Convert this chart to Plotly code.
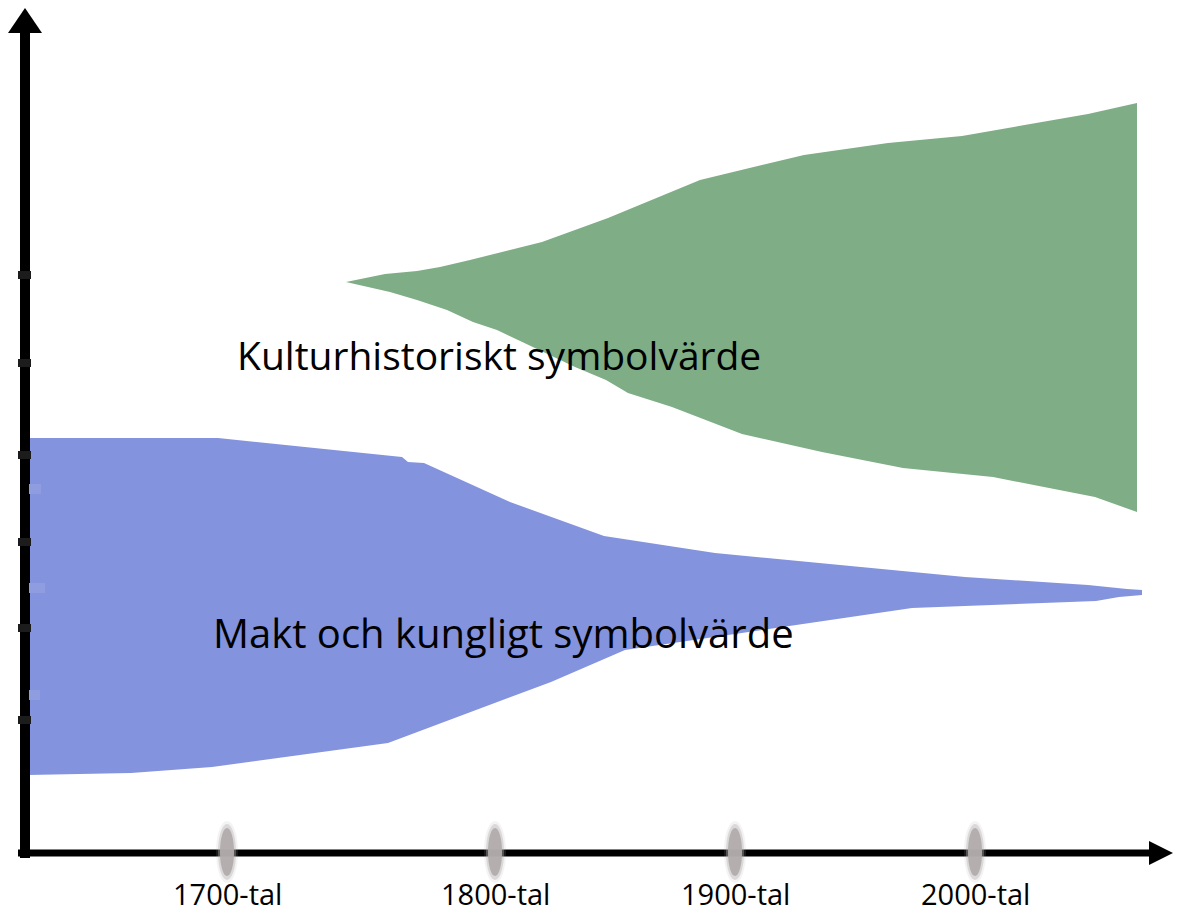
import plotly.graph_objects as go

# ---- data (x: position along time axis, y: value above the time axis) ----
centuries = ["1700-tal", "1800-tal", "1900-tal", "2000-tal"]
century_pos = [202, 470, 710, 950]

green_top_x = [321, 360, 392, 415, 445, 478, 517, 583, 675, 779, 863, 937, 1063, 1112]
green_top_y = [571, 579, 582, 586, 593, 601, 611, 635, 673, 698, 710, 717, 739, 750]
green_bot_x = [321, 365, 392, 422, 448, 472, 550, 581, 603, 647, 717, 797, 878, 968, 1070, 1112]
green_bot_y = [571, 561, 553, 543, 531, 523, 486, 473, 460, 446, 419, 401, 385, 376, 356, 341]

blue_top_x = [3, 193, 377, 383, 399, 485, 579, 690, 940, 1000, 1063, 1102, 1117]
blue_top_y = [415, 415, 396, 391, 390, 351, 317, 300, 276, 272, 268, 264, 263]
blue_bot_x = [3, 106, 187, 363, 526, 600, 887, 1071, 1094, 1117]
blue_bot_y = [78, 80, 86, 110, 171, 203, 245, 252, 256, 258]

green_label = "Kulturhistoriskt symbolvärde"
blue_label = "Makt och kungligt symbolvärde"

GREEN = "#7fad86"
BLUE = "#8493de"

fig = go.Figure()

fig.add_trace(go.Scatter(
    x=blue_top_x + blue_bot_x[::-1],
    y=blue_top_y + blue_bot_y[::-1],
    fill="toself", fillcolor=BLUE, mode="lines",
    line=dict(width=0, color=BLUE), hoverinfo="skip", showlegend=False))

fig.add_trace(go.Scatter(
    x=green_top_x + green_bot_x[::-1],
    y=green_top_y + green_bot_y[::-1],
    fill="toself", fillcolor=GREEN, mode="lines",
    line=dict(width=0, color=GREEN), hoverinfo="skip", showlegend=False))

shapes = []
# y axis line and arrowhead
shapes.append(dict(type="line", xref="x", yref="y", x0=0, x1=0, y0=-5, y1=822,
                   line=dict(color="black", width=10)))
shapes.append(dict(type="path", xref="x", yref="y",
                   path="M -17 820 L 0 845 L 17 820 Z",
                   fillcolor="black", line=dict(width=0)))
# little tick squares on the y axis
for yy in [578, 490, 398, 311, 225, 133]:
    shapes.append(dict(type="rect", xref="x", yref="y", x0=-7, x1=6, y0=yy - 4, y1=yy + 4,
                       fillcolor="#1c1c1c", line=dict(width=0)))
for yy, w in [(364, 12), (265, 16), (158, 11)]:
    shapes.append(dict(type="rect", xref="x", yref="y", x0=4, x1=4 + w, y0=yy - 5, y1=yy + 5,
                       fillcolor="#8f9de0", line=dict(width=0)))
# x axis line and arrowhead
shapes.append(dict(type="line", xref="x", yref="y", x0=-7, x1=1128, y0=0, y1=0,
                   line=dict(color="black", width=7)))
shapes.append(dict(type="path", xref="x", yref="y",
                   path="M 1124 12 L 1148 0 L 1124 -12 Z",
                   fillcolor="black", line=dict(width=0)))
# blurred grey tick marks
for cx in century_pos:
    shapes.append(dict(type="circle", xref="x", yref="y", x0=cx - 11, x1=cx + 11, y0=-30, y1=32,
                       fillcolor="rgba(180,174,174,0.15)", line=dict(width=0)))
    shapes.append(dict(type="circle", xref="x", yref="y", x0=cx - 9, x1=cx + 9, y0=-27, y1=29,
                       fillcolor="rgba(180,174,174,0.4)", line=dict(width=0)))
    shapes.append(dict(type="circle", xref="x", yref="y", x0=cx - 7, x1=cx + 7, y0=-23, y1=25,
                       fillcolor="rgba(178,172,172,0.95)", line=dict(width=0)))

annotations = []
for lab, cx in zip(centuries, century_pos):
    annotations.append(dict(x=cx, y=-40, xref="x", yref="y", text=lab, showarrow=False,
                            font=dict(family="Open Sans", size=29, color="#000000"),
                            xanchor="center", yanchor="middle"))
annotations.append(dict(x=474, y=499, xref="x", yref="y", text=green_label, showarrow=False,
                        font=dict(family="Open Sans", size=39, color="#000000"),
                        xanchor="center", yanchor="middle"))
annotations.append(dict(x=478, y=221, xref="x", yref="y", text=blue_label, showarrow=False,
                        font=dict(family="Open Sans", size=40, color="#000000"),
                        xanchor="center", yanchor="middle"))

# the page adds an 8 px body margin, so the figure is 8 px smaller and its ranges start 8 px in
fig.update_layout(
    width=1185, height=905,
    margin=dict(l=0, r=0, t=0, b=0),
    paper_bgcolor="white", plot_bgcolor="white",
    xaxis=dict(range=[-17, 1168], visible=False, fixedrange=True),
    yaxis=dict(range=[-60, 845], visible=False, fixedrange=True),
    shapes=shapes, annotations=annotations, showlegend=False,
)

fig.write_html("out.html")
